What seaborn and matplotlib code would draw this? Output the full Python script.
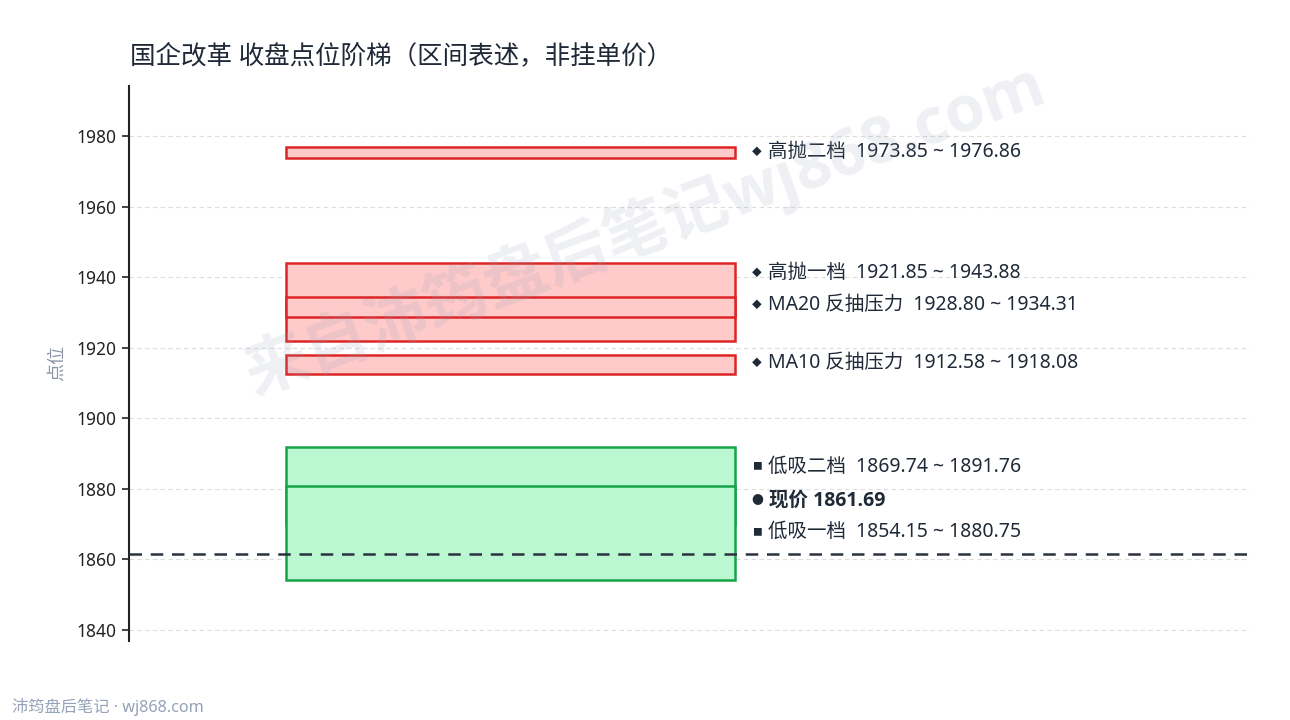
import matplotlib
matplotlib.use("Agg")
import matplotlib.pyplot as plt
import seaborn as sns

# ----------------------------------------------------------
# Data
# ----------------------------------------------------------

TITLE = "国企改革 收盘点位阶梯（区间表述，非挂单价）"
FOOTER = "沛筠盘后笔记 · wj868.com"
WATERMARK = "来自沛筠盘后笔记wj868.com"

zone_names = ["高抛二档", "高抛一档", "MA20 反抽压力", "MA10 反抽压力", "低吸二档", "低吸一档"]
zone_low = [1973.85, 1921.85, 1928.80, 1912.58, 1869.74, 1854.15]
zone_high = [1976.86, 1943.88, 1934.31, 1918.08, 1891.76, 1880.75]
zone_kind = ["sell", "sell", "sell", "sell", "buy", "buy"]

price_label = "现价"
price_now = 1861.69

y_ticks = [1840, 1860, 1880, 1900, 1920, 1940, 1960, 1980]

# label anchors after de-overlapping (layout, not data)
label_y = [1975.5, 1941.2, 1932.1, 1915.7, 1886.2, 1867.7]
price_label_y = 1876.8

# ----------------------------------------------------------
# Style
# ----------------------------------------------------------

sns.set_theme(style="white")
plt.rcParams["font.family"] = ["Noto Sans", "Noto Sans CJK SC", "DejaVu Sans"]
BOLD_FAMILY = ["Open Sans", "Noto Sans CJK SC", "DejaVu Sans"]

TEXT = "#1f2937"
FILL = {"sell": "#fecaca", "buy": "#bbf7d0"}
EDGE = {"sell": "#dc2626", "buy": "#16a34a"}
MARK = {"sell": "◆", "buy": "■"}

fig = plt.figure(figsize=(12.9, 7.2), dpi=100)
ax = fig.add_axes([0.1, 0.1097, 0.869, 0.771])

for lo, hi, kind in zip(zone_low, zone_high, zone_kind):
    ax.bar(
        0.3403, hi - lo, width=0.4006, bottom=lo,
        color=FILL[kind], edgecolor=EDGE[kind], linewidth=1.8, zorder=3,
    )

ax.axhline(price_now, color="#2b3340", linewidth=1.8, linestyle=(0, (5, 3.5)), zorder=4)

for name, lo, hi, kind, ly in zip(zone_names, zone_low, zone_high, zone_kind, label_y):
    ax.text(0.5555, ly, MARK[kind], fontsize=7, color=TEXT, va="center", ha="left")
    ax.text(0.570, ly, f"{name}  {lo:.2f} ~ {hi:.2f}", fontsize=14,
            color=TEXT, va="center", ha="left")

ax.text(0.5555, price_label_y, "●", fontsize=8.5, color=TEXT, va="center", ha="left")
ax.text(0.571, price_label_y, f"{price_label} {price_now:.2f}", fontsize=14,
        color=TEXT, va="center", ha="left", fontweight="bold", family=BOLD_FAMILY)

ax.set_xlim(0, 1)
ax.set_ylim(1836.9, 1994.2)
ax.set_xticks([])
ax.set_yticks(y_ticks)
ax.tick_params(axis="y", left=True, length=5, width=1.2, color="#222222",
               labelsize=12.5, labelcolor="#222222", pad=4)
ax.grid(axis="y", color="#dddddd", linestyle=(0, (4, 3)), linewidth=0.8)
ax.set_axisbelow(True)

for side in ["top", "right", "bottom"]:
    ax.spines[side].set_visible(False)
ax.spines["left"].set_color("#222222")
ax.spines["left"].set_linewidth(1.5)

ax.set_ylabel("点位", fontsize=13, color="#8a94a6", labelpad=8)

fig.text(130 / 1290, 1 - 57 / 720, TITLE, fontsize=18.4, color=TEXT,
         ha="left", va="center")
fig.text(12 / 1290, 1 - 707 / 720, FOOTER, fontsize=11.7, color="#94a3b8",
         ha="left", va="center")
fig.text(645 / 1290, 1 - 230 / 720, WATERMARK, fontsize=46, fontweight="bold",
         family=BOLD_FAMILY, color="#94a3b8", alpha=0.16, rotation=20.3,
         ha="center", va="center", zorder=10)

fig.savefig("out.png", dpi=100)
